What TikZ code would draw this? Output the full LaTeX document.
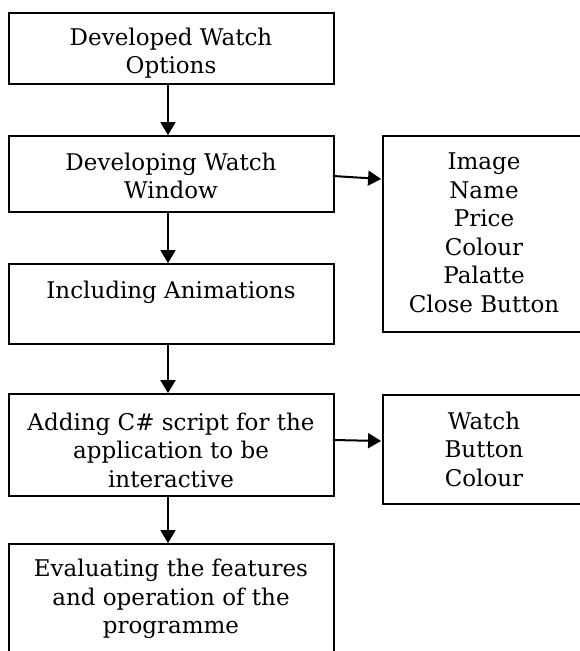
\documentclass[tikz,border=0pt]{standalone}
\usepackage{fontspec}
\setmainfont{DejaVu Serif}
\usetikzlibrary{arrows.meta}

\tikzset{
  stage/.style={draw=black, line width=1.8pt, rectangle, inner sep=0pt},
  caption/.style={align=center, inner sep=0pt,
    font=\fontsize{23}{28.5}\selectfont},
  flow/.style={line width=2pt, -{Triangle[length=13pt,width=15pt]}},
}

\begin{document}
\begin{tikzpicture}[x=1pt,y=1pt]
  \useasboundingbox (0,0) rectangle (580,651);

  % main column of stages
  \node[stage, minimum width=325pt, minimum height=71pt]  (b1) at (171.5,602.5) {};
  \node[stage, minimum width=325pt, minimum height=76pt]  (b2) at (171.5,477) {};
  \node[stage, minimum width=325pt, minimum height=80pt]  (b3) at (171.5,347) {};
  \node[stage, minimum width=325pt, minimum height=102pt] (b4) at (171.5,206) {};
  \node[stage, minimum width=325pt, minimum height=127pt] (b5) at (171.5,43.5) {};

  % detail boxes on the right
  \node[stage, minimum width=203pt, minimum height=196pt] (ibox) at (484.5,417) {};
  \node[stage, minimum width=203pt, minimum height=109pt] (wbox) at (484.5,201.5) {};

  % captions
  \node[caption] (t1) at (171,598) {Developed Watch\\Options};
  \node[caption] (t2) at (171,475) {Developing Watch\\Window};
  \node[caption] (t3) at (171,359) {Including Animations};
  \node[caption] (t4) at (171,201) {Adding C\# script for the\\application to be\\interactive};
  \node[caption] (t5) at (171,52) {Evaluating the features\\and operation of the\\programme};
  \node[caption] (ti) at (484,418) {Image\\Name\\Price\\Colour\\Palatte\\Close Button};
  \node[caption] (tw) at (484,202) {Watch\\Button\\Colour};

  % connectors
  \draw[flow] ([xshift=-3.5pt]b1.south) -- ([xshift=-3.5pt]b2.north);
  \draw[flow] ([xshift=-3.5pt]b2.south) -- ([xshift=-3.5pt]b3.north);
  \draw[flow] ([xshift=-3.5pt]b3.south) -- ([xshift=-3.5pt]b4.north);
  \draw[flow] ([xshift=-3.5pt]b4.south) -- ([xshift=-3.5pt]b5.north);
  \draw[flow] ([xshift=-2pt,yshift=-2pt]b2.east) -- ([xshift=-1pt,yshift=55pt]ibox.west);
  \draw[flow] ([xshift=-2pt,yshift=5pt]b4.east) -- ([xshift=-1pt,yshift=8.5pt]wbox.west);
\end{tikzpicture}
\end{document}
